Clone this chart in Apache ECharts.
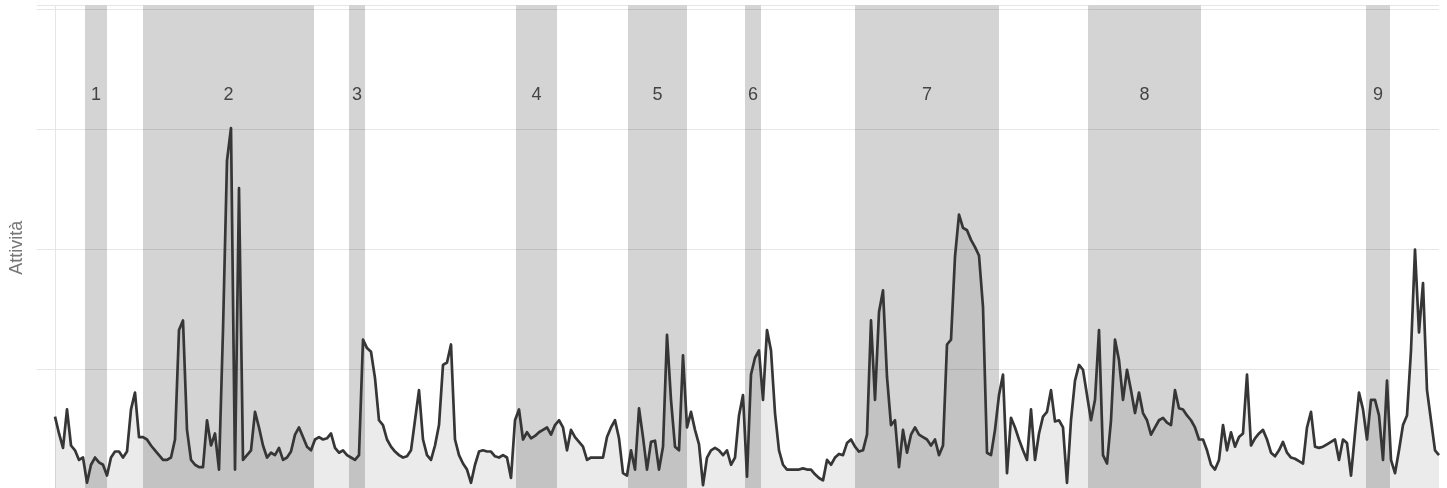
<!DOCTYPE html>
<html>
<head>
<meta charset="utf-8">
<script src="https://cdn.jsdelivr.net/npm/echarts@6/dist/echarts.min.js"></script>
<style>
html,body{margin:0;padding:0;background:#fff;}
#chart{width:1447px;height:488px;}
</style>
</head>
<body>
<div id="chart"></div>
<script>
// Activity values, one sample per time step (step index = x)
const activity = [
61,47,35,67,37,33,25,27,6,21,27,23,21,12,27,32,32,27,32,67,
81,44,44,42,37,33,29,25,25,27,42,133,141,50,25,21,19,19,58,37,
47,17,133,274,301,17,251,25,29,33,65,52,37,27,31,29,35,25,27,32,
46,52,44,36,33,42,44,42,43,47,35,31,33,29,27,25,29,125,118,115,
93,58,54,42,36,32,29,27,28,33,58,83,42,29,25,37,54,104,106,121,
42,29,22,17,6,21,32,33,32,32,28,27,29,27,10,58,67,42,48,43,
45,48,50,52,46,54,58,52,33,50,44,40,36,25,27,27,27,27,44,52,
58,43,14,12,33,17,68,44,17,40,41,17,36,129,75,36,33,112,52,65,
50,38,4,27,33,35,33,29,33,21,27,62,79,11,96,110,116,75,133,116,
64,33,21,17,17,17,17,18,17,17,13,10,8,25,21,27,30,29,39,42,
36,32,33,46,141,75,148,166,94,54,58,19,50,31,46,52,46,44,42,37,
42,29,37,121,125,194,229,218,216,208,202,195,152,31,29,50,79,96,14,60,
52,42,33,25,67,25,47,61,65,83,57,58,52,6,58,91,104,100,79,58,
75,133,29,22,58,125,108,75,100,83,64,81,64,58,46,52,58,60,56,54,
83,68,67,62,58,52,42,42,33,21,17,25,54,33,48,36,44,47,96,37,
43,47,50,42,31,28,33,40,31,27,26,24,22,52,65,36,35,36,38,40,
42,25,42,39,12,47,81,67,42,75,75,62,25,91,25,14,33,54,62,116,
200,131,172,83,58,33,29
];
const steps = activity.map((_, i) => i);

// Highlighted periods (in time steps)
const bandLabels = ['1','2','3','4','5','6','7','8','9'];
const bandStarts = [7.5, 22, 73.5, 115.25, 143.25, 172.5, 200, 258.25, 327.75];
const bandEnds   = [13, 64.75, 77.5, 125.5, 158, 176.5, 236, 286.5, 333.75];

const yTicksStep = 100;

const chart = echarts.init(document.getElementById('chart'), null, {renderer: 'canvas'});

const bands = bandLabels.map((lab, i) => [
  {name: lab, xAxis: bandStarts[i]},
  {xAxis: bandEnds[i]}
]);

chart.setOption({
  animation: false,
  backgroundColor: '#fff',
  grid: {left: 37, right: 8, top: 5.5, bottom: -2, containLabel: false, outerBoundsMode: 'none'},
  xAxis: {
    type: 'value',
    min: -4.5,
    max: steps.length - 1,
    show: true,
    axisLine: {show: false},
    axisTick: {show: false},
    axisLabel: {show: false},
    splitLine: {show: false}
  },
  yAxis: {
    type: 'value',
    min: 0,
    max: 402.9,
    interval: yTicksStep,
    name: 'Attività',
    nameLocation: 'middle',
    nameGap: 11,
    nameRotate: 90,
    nameTextStyle: {color: '#777', fontSize: 18, fontFamily: 'Liberation Sans, Arial, sans-serif'},
    axisLine: {show: true, onZero: true, lineStyle: {color: '#e6e6e6', width: 1}},
    axisTick: {show: false},
    axisLabel: {show: false},
    splitLine: {show: true, lineStyle: {color: '#e6e6e6', width: 1}}
  },
  series: [{
    type: 'line',
    data: steps.map((s, i) => [s, activity[i]]),
    showSymbol: false,
    symbol: 'none',
    smooth: false,
    lineStyle: {color: '#363636', width: 2.7, join: 'round'},
    areaStyle: {color: 'rgba(0,0,0,0.11)', origin: 'start'},
    z: 3,
    markArea: {
      silent: true,
      itemStyle: {color: 'rgba(0,0,0,0.17)'},
      label: {
        show: true,
        position: 'insideTop',
        distance: 81,
        color: '#444',
        fontSize: 18,
        fontFamily: 'Liberation Sans, Arial, sans-serif'
      },
      data: bands
    }
  }]
});
</script>
</body>
</html>
